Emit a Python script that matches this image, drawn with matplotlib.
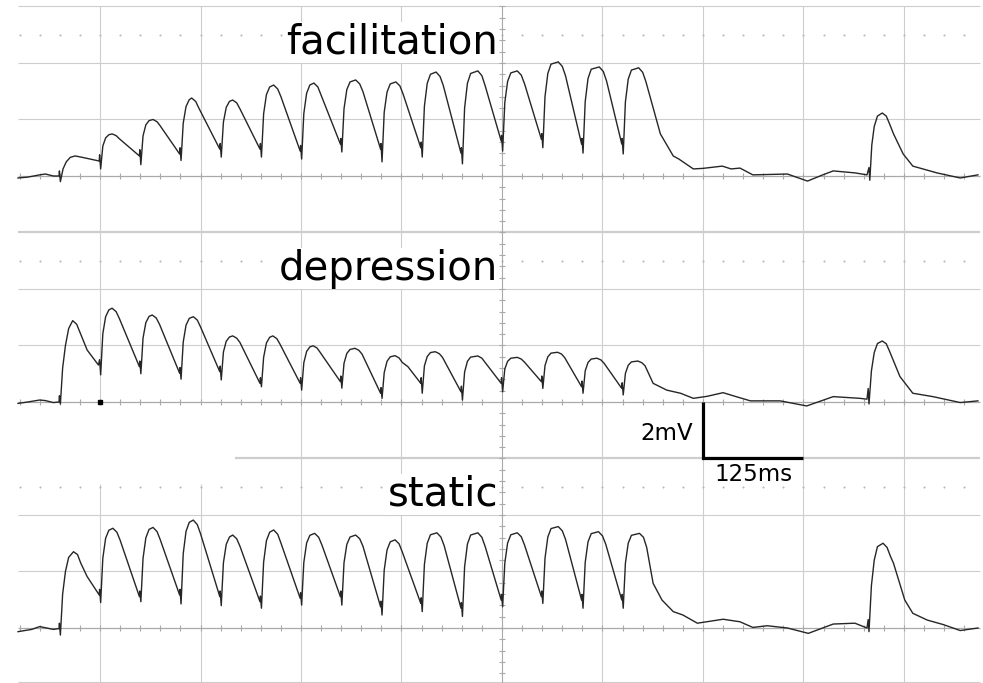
import numpy as np
import matplotlib
matplotlib.use('Agg')
import matplotlib.pyplot as plt

# Three oscilloscope sweeps, 20 Hz train of 15 stimuli + one test pulse.
# time in ms (0 = second stimulus), voltage in mV above the sweep baseline
FAC_T = [-102, -90, -75, -68, -58, -51, -50.5, -49.3, -46, -42, -37, -31, -22, -12, -1,
         -0.5, 0.8, 3.5, 7, 11, 15, 20, 24, 49,
         49.5, 50.8, 53.5, 57, 61, 66, 71, 75, 99,
         99.5, 100.8, 103.5, 107, 111, 114, 119, 123, 149,
         149.5, 150.8, 153.5, 157, 161, 165, 170, 174, 199,
         199.5, 200.8, 203.5, 207, 211, 216, 221, 225, 249,
         249.5, 250.8, 253.5, 257, 261, 266, 271, 275, 299,
         299.5, 300.8, 303.5, 307, 311, 318, 323, 327, 349,
         349.5, 350.8, 353.5, 357, 361, 368, 373, 377, 399,
         399.5, 400.8, 403.5, 407, 411, 418, 423, 427, 449,
         449.5, 450.8, 453.5, 457, 461, 470, 475, 479, 499,
         499.5, 500.8, 503.5, 507, 511, 519, 524, 528, 549,
         549.5, 550.8, 553.5, 557, 561, 570, 575, 579, 599,
         599.5, 600.8, 603.5, 607, 611, 621, 626, 630, 649,
         649.5, 650.8, 653.5, 657, 661, 670, 675, 679,
         697, 713, 720, 738, 750, 774, 785, 796, 812, 855, 880, 899, 912, 939, 954,
         956.5, 957.5, 960, 963, 967, 973, 978, 982, 987, 999, 1011, 1041, 1070, 1092]
FAC_MV = [-0.07, -0.04, 0.04, 0.07, 0.0, 0.0, 0.18, -0.2, 0.25, 0.5, 0.66, 0.71, 0.66, 0.6, 0.53,
          0.75, 0.25, 1.06, 1.35, 1.46, 1.49, 1.43, 1.32, 0.71,
          0.93, 0.4, 1.42, 1.81, 1.96, 2.0, 1.92, 1.77, 0.78,
          1.0, 0.55, 1.87, 2.46, 2.7, 2.76, 2.64, 2.4, 0.95,
          1.15, 0.67, 1.91, 2.43, 2.64, 2.69, 2.59, 2.38, 0.95,
          1.15, 0.67, 2.2, 2.88, 3.15, 3.22, 3.08, 2.81, 0.88,
          1.08, 0.6, 2.21, 2.93, 3.22, 3.29, 3.15, 2.86, 1.13,
          1.33, 0.85, 2.38, 3.06, 3.33, 3.4, 3.26, 2.99, 0.95,
          1.15, 0.5, 2.26, 2.97, 3.26, 3.33, 3.19, 2.9, 1.0,
          1.2, 0.67, 2.47, 3.28, 3.6, 3.68, 3.52, 3.2, 0.81,
          1.0, 0.43, 2.41, 3.28, 3.63, 3.72, 3.55, 3.2, 1.24,
          1.44, 0.88, 2.6, 3.35, 3.65, 3.72, 3.57, 3.27, 1.3,
          1.5, 1.0, 2.81, 3.63, 3.96, 4.04, 3.88, 3.55, 1.13,
          1.33, 0.81, 2.63, 3.45, 3.78, 3.86, 3.7, 3.37, 1.13,
          1.33, 0.78, 2.62, 3.43, 3.75, 3.83, 3.67, 3.34,
          1.49, 0.71, 0.6, 0.25, 0.27, 0.35, 0.25, 0.28, 0.04, 0.07, -0.18, 0.04, 0.18, 0.11, 0.04,
          0.3, -0.15, 1.1, 1.75, 2.12, 2.23, 2.12, 1.85, 1.49, 0.78, 0.35, 0.11, -0.07, 0.04]

DEP_T = [-102, -90, -75, -68, -58, -51, -50.5, -49.3, -46.5, -43, -39, -34, -29, -24, -16, -2,
         -0.5, 0.8, 3.5, 7, 11, 15, 20, 24, 49,
         49.5, 50.8, 53.5, 57, 61, 65, 70, 74, 99,
         99.5, 100.8, 103.5, 107, 111, 116, 121, 125, 149,
         149.5, 150.8, 153.5, 157, 161, 165, 170, 174, 199,
         199.5, 200.8, 203.5, 207, 211, 215, 220, 224, 249,
         249.5, 250.8, 253.5, 257, 261, 265, 270, 274, 299,
         299.5, 300.8, 303.5, 307, 311, 317, 322, 326, 349,
         349.5, 350.8, 353.5, 357, 361, 367, 372, 376, 383, 399,
         399.5, 400.8, 403.5, 407, 411, 417, 422, 426, 449,
         449.5, 450.8, 453.5, 457, 461, 470, 475, 479, 499,
         499.5, 500.8, 503.5, 507, 511, 519, 524, 528, 549,
         549.5, 550.8, 553.5, 557, 561, 569, 574, 578, 599,
         599.5, 600.8, 603.5, 607, 611, 618, 623, 627, 649,
         649.5, 650.8, 653.5, 657, 661, 669, 674, 678,
         688, 705, 722, 738, 755, 775, 790, 809, 846, 879, 912, 945, 954,
         955.5, 956.5, 959.5, 963, 967, 973, 978, 982, 995, 1011, 1036, 1070, 1092]
DEP_MV = [-0.05, 0.0, 0.07, 0.05, -0.02, 0.0, 0.22, -0.07, 1.2, 2.0, 2.6, 2.88, 2.75, 2.4, 1.84, 1.31,
          1.5, 0.96, 2.42, 3.02, 3.26, 3.32, 3.2, 2.96, 1.25,
          1.45, 1.0, 2.26, 2.81, 3.03, 3.08, 2.97, 2.75, 1.02,
          1.22, 0.81, 2.12, 2.72, 2.96, 3.02, 2.9, 2.66, 1.07,
          1.27, 0.78, 1.77, 2.15, 2.3, 2.34, 2.26, 2.11, 0.66,
          0.86, 0.54, 1.58, 2.09, 2.29, 2.34, 2.24, 2.04, 0.66,
          0.86, 0.42, 1.39, 1.79, 1.95, 1.99, 1.91, 1.75, 0.72,
          0.92, 0.49, 1.37, 1.72, 1.86, 1.9, 1.83, 1.69, 0.31,
          0.51, 0.13, 1.04, 1.44, 1.6, 1.64, 1.56, 1.4, 1.25, 0.66,
          0.86, 0.31, 1.28, 1.61, 1.75, 1.78, 1.71, 1.58, 0.36,
          0.56, 0.07, 1.06, 1.44, 1.59, 1.63, 1.55, 1.4, 0.66,
          0.86, 0.36, 1.17, 1.44, 1.55, 1.58, 1.52, 1.41, 0.72,
          0.92, 0.48, 1.29, 1.6, 1.73, 1.76, 1.7, 1.57, 0.54,
          0.74, 0.31, 1.1, 1.4, 1.52, 1.55, 1.49, 1.37, 0.48,
          0.68, 0.25, 1.01, 1.3, 1.42, 1.45, 1.39, 1.28,
          0.66, 0.42, 0.31, 0.13, 0.2, 0.33, 0.2, 0.04, 0.04, -0.14, 0.19, 0.13, 0.1,
          0.48, -0.07, 1.1, 1.75, 2.07, 2.16, 2.06, 1.8, 0.9, 0.31, 0.19, -0.02, 0.04]

STA_T = [-102, -85, -75, -58, -51, -50.5, -49.3, -46.5, -43, -39, -33, -28, -24, -16, -1,
         -0.5, 0.8, 3.5, 7, 11, 16, 21, 25, 49,
         49.5, 50.8, 53.5, 57, 61, 66, 71, 75, 99,
         99.5, 100.8, 103.5, 107, 111, 116, 121, 125, 149,
         149.5, 150.8, 153.5, 157, 161, 165, 170, 174, 199,
         199.5, 200.8, 203.5, 207, 211, 216, 221, 225, 249,
         249.5, 250.8, 253.5, 257, 261, 267, 272, 276, 299,
         299.5, 300.8, 303.5, 307, 311, 318, 323, 327, 349,
         349.5, 350.8, 353.5, 357, 361, 367, 372, 376, 399,
         399.5, 400.8, 403.5, 407, 411, 419, 424, 428, 449,
         449.5, 450.8, 453.5, 457, 461, 470, 475, 479, 499,
         499.5, 500.8, 503.5, 507, 511, 519, 524, 528, 549,
         549.5, 550.8, 553.5, 557, 561, 570, 575, 579, 599,
         599.5, 600.8, 603.5, 607, 611, 620, 625, 629, 649,
         649.5, 650.8, 653.5, 657, 661, 671, 676, 680,
         688, 699, 713, 725, 743, 775, 796, 812, 830, 855, 881, 912, 939, 954,
         955.5, 956.5, 959.5, 963, 967, 974, 979, 983, 987, 1001, 1011, 1029, 1049, 1070, 1092]
STA_MV = [-0.13, -0.05, 0.05, -0.05, -0.02, 0.17, -0.25, 1.2, 2.0, 2.5, 2.7, 2.6, 2.3, 1.82, 1.17,
          1.37, 0.9, 2.47, 3.18, 3.46, 3.53, 3.39, 3.11, 1.11,
          1.31, 0.93, 2.46, 3.19, 3.49, 3.56, 3.41, 3.12, 1.17,
          1.37, 0.85, 2.63, 3.42, 3.74, 3.82, 3.66, 3.34, 1.11,
          1.31, 0.79, 2.31, 2.96, 3.22, 3.29, 3.16, 2.9, 0.93,
          1.13, 0.7, 2.33, 3.09, 3.39, 3.47, 3.32, 3.01, 1.05,
          1.25, 0.81, 2.32, 3.01, 3.28, 3.35, 3.21, 2.94, 1.11,
          1.31, 0.81, 2.31, 2.96, 3.22, 3.29, 3.16, 2.9, 0.75,
          0.95, 0.46, 2.05, 2.76, 3.05, 3.12, 2.98, 2.69, 0.87,
          1.07, 0.58, 2.25, 3.0, 3.3, 3.37, 3.22, 2.92, 0.7,
          0.9, 0.41, 2.17, 2.97, 3.29, 3.37, 3.21, 2.89, 0.99,
          1.19, 0.75, 2.3, 3.01, 3.3, 3.37, 3.23, 2.94, 1.11,
          1.31, 0.87, 2.47, 3.22, 3.52, 3.59, 3.44, 3.14, 0.99,
          1.19, 0.7, 2.32, 3.05, 3.34, 3.41, 3.26, 2.97, 0.99,
          1.19, 0.7, 2.29, 3.0, 3.28, 3.35, 3.21, 2.85,
          1.58, 0.99, 0.58, 0.46, 0.17, 0.31, 0.22, 0.02, 0.08, 0.0, -0.19, 0.14, 0.17, 0.0,
          0.3, -0.13, 1.5, 2.4, 2.88, 3.0, 2.85, 2.55, 2.29, 0.99, 0.52, 0.28, 0.12, -0.09, 0.0]

LABELS = ['facilitation', 'depression', 'static']
SCALE_MS = 125
SCALE_MV = 2

# screen layout (1 division = 125 ms x 2 mV)
OFFSETS = [18, 10, 2]
X0, X1 = -102, 1094
grid_c = '#cdcdcd'
axis_c = '#a9a9a9'
trace_c = '#262626'

fig = plt.figure(figsize=(9.83, 6.83), dpi=100)
ax = fig.add_axes([0, 0, 1, 1])
ax.set_xlim(-124.4, 1098.3)
ax.set_ylim(0.053, 24.23)
ax.axis('off')

# vertical grid lines
for t in range(0, 1001, 125):
    if t == 500:
        continue
    if t < 200:
        ax.vlines(t, 10, 24, color=grid_c, lw=0.8, zorder=1)
        ax.vlines(t, 0, 7.1, color=grid_c, lw=0.8, zorder=1)
    else:
        ax.vlines(t, 0, 24, color=grid_c, lw=0.8, zorder=1)

# horizontal grid lines
for y in [20, 22, 24, 12, 14, 4, 6, 0.1]:
    ax.hlines(y, X0, X1, color=grid_c, lw=0.8, zorder=1)
ax.hlines(16, X0, X1, color=grid_c, lw=1.6, zorder=1)
ax.hlines(8, 168, X1, color=grid_c, lw=1.6, zorder=1)

# dotted rows
dot_t = np.arange(-100, X1, 25)
for o in OFFSETS:
    ax.plot(dot_t, np.full(len(dot_t), o + 5), ls='none', marker='o', ms=1.5,
            mew=0, color='#b8b8b8', zorder=1)

# centre axes with minor ticks
ax.vlines(500, 0, 24, color=axis_c, lw=0.8, zorder=2)
tick_y = np.arange(0, 24.01, 0.4)
ax.hlines(tick_y, 496, 504, color=axis_c, lw=0.8, zorder=2)
tick_t = np.arange(-100, X1, 25)
for o in OFFSETS:
    ax.hlines(o, X0, X1, color=axis_c, lw=0.9, zorder=2)
    ax.vlines(tick_t, o - 0.1, o + 0.1, color=axis_c, lw=0.8, zorder=2)

# traces
traces = [(FAC_T, FAC_MV), (DEP_T, DEP_MV), (STA_T, STA_MV)]
for (t, v), o, lab in zip(traces, OFFSETS, LABELS):
    ax.plot(t, np.array(v) + o, color=trace_c, lw=1.0, zorder=4,
            solid_joinstyle='round')
    ax.text(495, o + 4.33, lab, ha='right', va='baseline', fontsize=29,
            family='DejaVu Sans', color='black', zorder=3,
            bbox=dict(facecolor='white', edgecolor='none', pad=0.5))

# small trigger mark
ax.plot([0], [OFFSETS[1]], 's', ms=2.5, color='black', zorder=5)

# scale bar
bx, by = 750, OFFSETS[1]
ax.plot([bx, bx, bx + SCALE_MS], [by, by - SCALE_MV, by - SCALE_MV],
        color='black', lw=2.3, solid_joinstyle='miter', solid_capstyle='butt', zorder=5)
ax.text(bx - 12, by - SCALE_MV / 2 - 0.35, '%dmV' % SCALE_MV, ha='right', va='baseline',
        fontsize=16.5, color='black')
ax.text(bx + SCALE_MS / 2, 7.22, '%dms' % SCALE_MS, ha='center', va='baseline',
        fontsize=16.5, color='black')

fig.savefig('out.png', dpi=100, facecolor='white')
